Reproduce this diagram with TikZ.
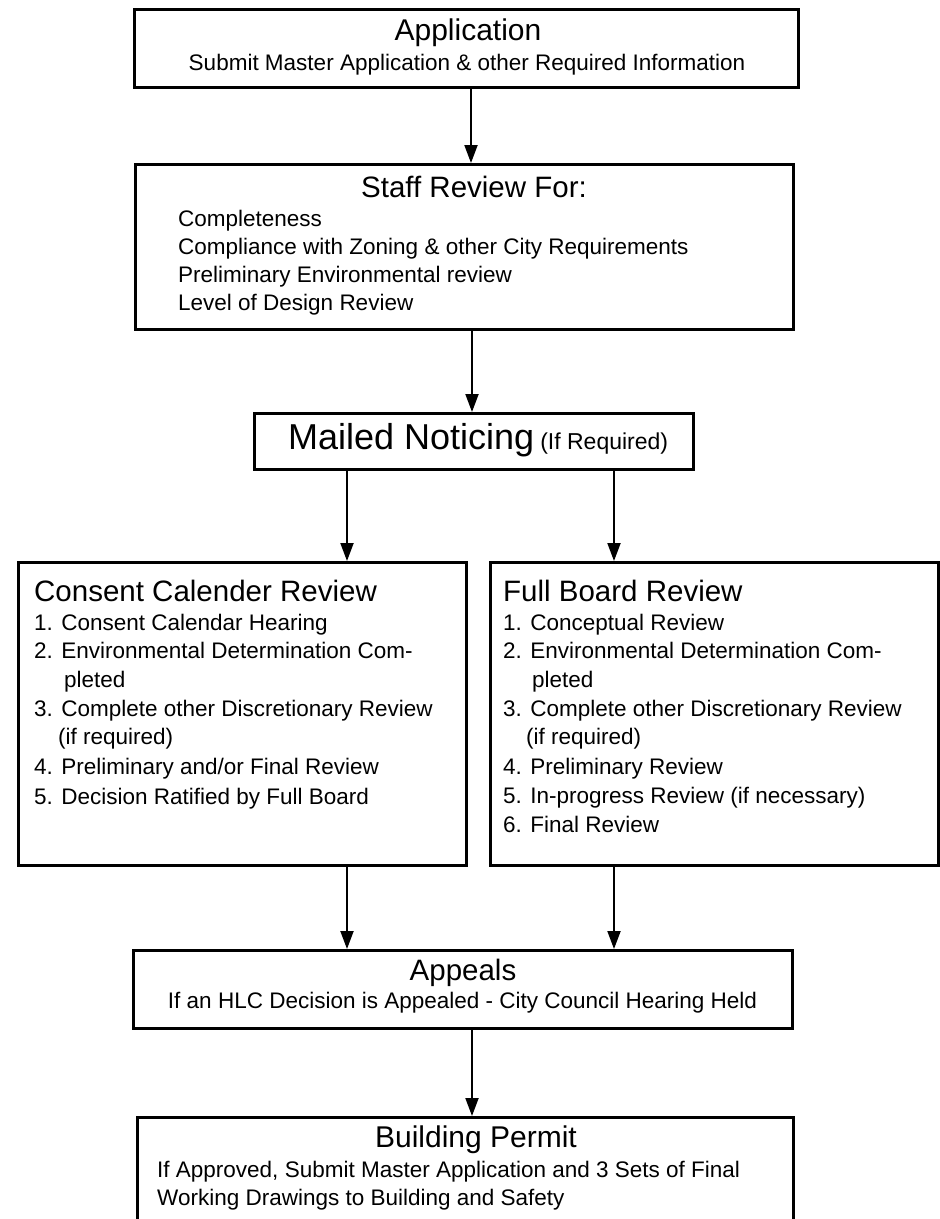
\documentclass[tikz,border=0pt]{standalone}
\usepackage{fontspec}
\setmainfont{Liberation Sans}
\usetikzlibrary{arrows.meta}
\begin{document}
\begin{tikzpicture}[x=1pt,y=-1pt,
  box/.style={draw, line width=2.5pt, rectangle, inner sep=0pt, anchor=north west},
  arr/.style={line width=2pt, -{Triangle[length=18pt,width=13pt]}},
  ttl/.style={inner sep=0pt, font=\fontsize{29.5}{34}\selectfont},
  itm/.style={inner sep=0pt, font=\fontsize{22.5}{27}\selectfont},
  ctr/.style={anchor=base},
  lft/.style={anchor=base west}]
\clip (0,0) rectangle (940,1219);
\fill[white] (0,0) rectangle (940,1219);

% boxes
\node[box, minimum width=664pt, minimum height=78pt] (app) at (133,8) {};
\node[box, minimum width=658pt, minimum height=165pt] (staff) at (134,163) {};
\node[box, minimum width=439pt, minimum height=56pt] (mail) at (253,412) {};
\node[box, minimum width=448pt, minimum height=303pt] (consent) at (17,561) {};
\node[box, minimum width=448pt, minimum height=303pt] (full) at (489,561) {};
\node[box, minimum width=659pt, minimum height=78pt] (appeals) at (132,949) {};
\node[box, minimum width=656pt, minimum height=130pt] (permit) at (136,1116) {};

% connector columns
\coordinate (ax) at (471,0);
\coordinate (cx) at (472,0);
\coordinate (lx) at (347,0);
\coordinate (rx) at (614,0);

% texts
\node[ttl, ctr, font=\fontsize{30}{34}\selectfont] (appT) at (468,40) {Application};
\node[itm, ctr] (appS) at (467,70) {Submit Master Application \& other Required Information};

\node[ttl, ctr] (staffT) at (474,197) {Staff Review For:};
\node[itm, lft] (st1) at (178,226) {Completeness};
\node[itm, lft] (st2) at (178,254) {Compliance with Zoning \& other City Requirements};
\node[itm, lft] (st3) at (178,282) {Preliminary Environmental review};
\node[itm, lft] (st4) at (178,310) {Level of Design Review};

\node[inner sep=0pt, lft] (mailT) at (288,449) {{\fontsize{36}{40}\selectfont Mailed Noticing}\hspace{6pt}{\fontsize{23}{27}\selectfont(If Required)}};

\node[ttl, lft] (conT) at (34,601) {Consent Calender Review};
\node[itm, lft] (c1) at (34,630) {1. Consent Calendar Hearing};
\node[itm, lft] (c2) at (34,658.5) {2. Environmental Determination Com-};
\node[itm, lft] (c2b) at (64,687) {pleted};
\node[itm, lft] (c3) at (34,716) {3. Complete other Discretionary Review};
\node[itm, lft] (c3b) at (58,744.5) {(if required)};
\node[itm, lft] (c4) at (34,774) {4. Preliminary and/or Final Review};
\node[itm, lft] (c5) at (34,804) {5. Decision Ratified by Full Board};

\node[ttl, lft] (fullT) at (503,601) {Full Board Review};
\node[itm, lft] (f1) at (503,630) {1. Conceptual Review};
\node[itm, lft] (f2) at (503,658.5) {2. Environmental Determination Com-};
\node[itm, lft] (f2b) at (532,687) {pleted};
\node[itm, lft] (f3) at (503,716) {3. Complete other Discretionary Review};
\node[itm, lft] (f3b) at (526,744.5) {(if required)};
\node[itm, lft] (f4) at (503,774) {4. Preliminary Review};
\node[itm, lft] (f5) at (503,803) {5. In-progress Review (if necessary)};
\node[itm, lft] (f6) at (503,832) {6. Final Review};

\node[ttl, ctr] (appealsT) at (463,980) {Appeals};
\node[itm, ctr] (appealsS) at (462.5,1008) {If an HLC Decision is Appealed - City Council Hearing Held};

\node[ttl, ctr, font=\fontsize{30}{34}\selectfont] (permitT) at (476,1147) {Building Permit};
\node[itm, lft] (p1) at (157,1177) {If Approved, Submit Master Application and 3 Sets of Final};
\node[itm, lft] (p2) at (157,1205) {Working Drawings to Building and Safety};

% connectors
\draw[arr] (app.south -| ax) -- (staff.north -| ax);
\draw[arr] (staff.south -| cx) -- (mail.north -| cx);
\draw[arr] (mail.south -| lx) -- (consent.north -| lx);
\draw[arr] (mail.south -| rx) -- (full.north -| rx);
\draw[arr] (consent.south -| lx) -- (appeals.north -| lx);
\draw[arr] (full.south -| rx) -- (appeals.north -| rx);
\draw[arr] (appeals.south -| cx) -- (permit.north -| cx);
\end{tikzpicture}
\end{document}
